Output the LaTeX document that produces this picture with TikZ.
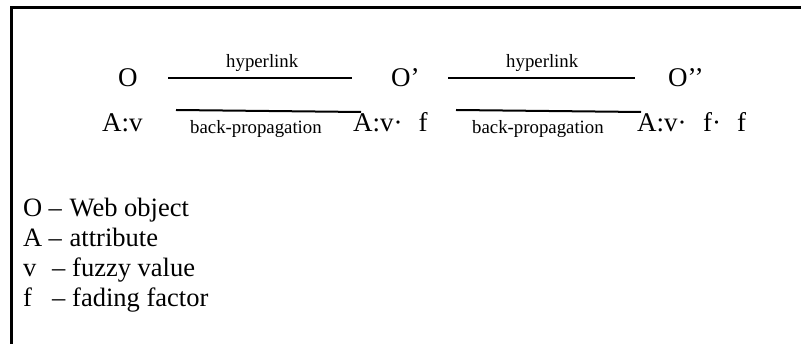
\documentclass[tikz,border=0pt]{standalone}
\usepackage{fontspec}
\setmainfont{Liberation Serif}
\begin{document}
\begin{tikzpicture}[x=1pt,y=-1pt,
  lbl/.style={inner sep=0pt, anchor=base west, font=\fontsize{27}{31}\selectfont},
  small/.style={inner sep=0pt, anchor=base west, font=\fontsize{18.8}{22}\selectfont},
  leg/.style={inner sep=0pt, anchor=base west, font=\fontsize{26.5}{30}\selectfont},
  link/.style={line width=2pt},
  frame/.style={line width=3pt}]
\useasboundingbox (0,0) rectangle (801,344);
% frame (left and top sides visible)
\coordinate (fb) at (11.5,350);
\coordinate (fc) at (11.5,7.3);
\coordinate (fr) at (810,7.3);
\draw[frame] (fb) -- (fc) -- (fr);
% objects
\node[lbl] (o1) at (118,87) {O};
\node[lbl] (o2) at (391,87) {O’};
\node[lbl] (o3) at (668,87) {O’’};
\node[lbl] (a1) at (102,132) {A:v};
\node[lbl] (a2) at (353,132) {A:v·\hspace{16pt}f};
\node[lbl] (a3) at (637,132) {A:v·\hspace{16.5pt}f·\hspace{16pt}f};
% link labels
\node[small] (h1) at (226,68) {hyperlink};
\node[small] (h2) at (506,68) {hyperlink};
\node[small] (b1) at (190,134) {back-propagation};
\node[small] (b2) at (472,134) {back-propagation};
% connectors
\coordinate (h1s) at (168,78); \coordinate (h1e) at (352,78);
\coordinate (h2s) at (448,78); \coordinate (h2e) at (635,78);
\coordinate (b1s) at (176,110); \coordinate (b1e) at (361,112);
\coordinate (b2s) at (456,110); \coordinate (b2e) at (641,112);
\draw[link] (h1s) -- (h1e);
\draw[link] (h2s) -- (h2e);
\draw[link] (b1s) -- (b1e);
\draw[link] (b2s) -- (b2e);
% legend
\node[leg] (lO) at (23,217) {O};
\node[leg] (dO) at (48.5,217) {–};
\node[leg] (tO) at (69.5,217) {Web object};
\node[leg] (lA) at (23,247) {A};
\node[leg] (dA) at (48.5,247) {–};
\node[leg] (tA) at (69.5,247) {attribute};
\node[leg] (lv) at (23,277) {v};
\node[leg] (dv) at (52,277) {–};
\node[leg] (tv) at (72,277) {fuzzy value};
\node[leg] (lf) at (23,307) {f};
\node[leg] (df) at (52,307) {–};
\node[leg] (tf) at (72,307) {fading factor};
\end{tikzpicture}
\end{document}
